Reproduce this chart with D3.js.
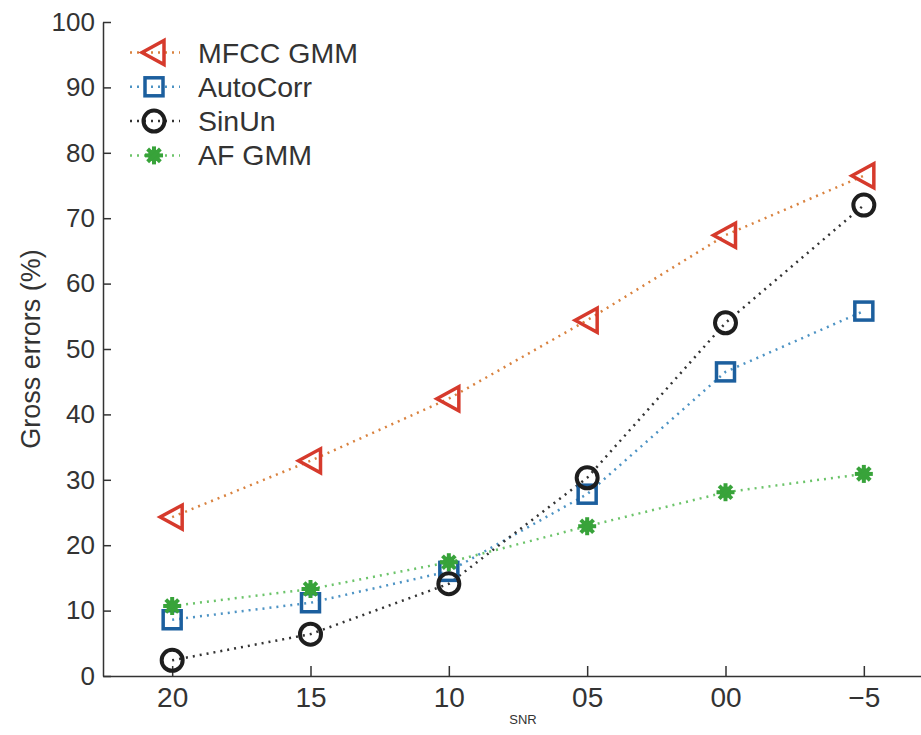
<!DOCTYPE html>
<html lang="en">
<head>
<meta charset="UTF-8">
<title>Gross errors vs SNR</title>
<script src="https://d3js.org/d3.v7.min.js"></script>
<style>
    body { margin: 0; background: #fff; }
    text { font-family: "Liberation Sans", Arial, sans-serif; fill: #333; }
    .axis path, .axis line { stroke: #333; stroke-width: 1.5; }
</style>
</head>
<body>
<div id="chart"></div>
<script>
    // data
    const snrLabels = ["20", "15", "10", "05", "00", "\u22125"];
    const mfccGmm = [24.3, 32.9, 42.4, 54.4, 67.4, 76.5];
    const autoCorr = [8.6, 11.2, 16.0, 27.8, 46.5, 55.8];
    const sinUn = [2.4, 6.4, 14.1, 30.3, 54.0, 72.0];
    const afGmm = [10.7, 13.3, 17.4, 22.9, 28.1, 30.9];
    const yTicks = [0, 10, 20, 30, 40, 50, 60, 70, 80, 90, 100];

    const series = [
        { name: "MFCC GMM", values: mfccGmm, marker: "triangle", stroke: "#d63a2c", line: "#d9823f" },
        { name: "AutoCorr", values: autoCorr, marker: "square", stroke: "#1c5f9e", line: "#4d93c4" },
        { name: "SinUn", values: sinUn, marker: "circle", stroke: "#1e1e1e", line: "#333" },
        { name: "AF GMM", values: afGmm, marker: "star", stroke: "#38a33a", line: "#6cc46a" }
    ];

    const W = 921, H = 735;
    const svg = d3.select("#chart").append("svg")
        .attr("width", W).attr("height", H);

    const x = d3.scaleLinear().domain([-0.5, 5.5]).range([103, 933]);
    const y = d3.scaleLinear().domain([0, 100]).range([676, 22]);

    // y axis, ticks point inward
    const yAxis = svg.append("g")
        .attr("class", "axis")
        .attr("transform", "translate(103,0)")
        .call(d3.axisLeft(y).tickValues(yTicks).tickSize(-8).tickSizeOuter(0).tickPadding(8));
    yAxis.selectAll("text").attr("font-size", 26).attr("fill", "#333");

    // x axis, ticks point inward
    const xAxis = svg.append("g")
        .attr("class", "axis")
        .attr("transform", "translate(0,676)")
        .call(d3.axisBottom(x).tickValues(d3.range(snrLabels.length))
            .tickFormat(i => snrLabels[i]).tickSize(-10).tickSizeOuter(0).tickPadding(11));
    xAxis.selectAll("text").attr("font-size", 28).attr("fill", "#333");

    svg.append("text")
        .attr("transform", "translate(40," + y(50) + ") rotate(-90)")
        .attr("text-anchor", "middle")
        .attr("font-size", 27)
        .text("Gross errors (%)");

    svg.append("text")
        .attr("x", 523).attr("y", 724)
        .attr("text-anchor", "middle")
        .attr("font-size", 13)
        .text("SNR");

    function drawMarker(g, s, cx, cy) {
        if (s.marker === "triangle") {
            g.append("path")
                .attr("d", `M${cx - 12},${cy} L${cx + 10},${cy - 12} L${cx + 10},${cy + 12} Z`)
                .attr("fill", "none").attr("stroke", s.stroke).attr("stroke-width", 3.5)
                .attr("stroke-linejoin", "miter");
        } else if (s.marker === "square") {
            g.append("rect")
                .attr("x", cx - 9).attr("y", cy - 9).attr("width", 18).attr("height", 18)
                .attr("fill", "none").attr("stroke", s.stroke).attr("stroke-width", 3.5);
        } else if (s.marker === "circle") {
            g.append("circle")
                .attr("cx", cx).attr("cy", cy).attr("r", 10.5)
                .attr("fill", "none").attr("stroke", s.stroke).attr("stroke-width", 4);
        } else {
            g.append("circle")
                .attr("cx", cx).attr("cy", cy).attr("r", 6)
                .attr("fill", s.stroke);
            d3.range(4).forEach(k => {
                const a = k * Math.PI / 4;
                g.append("line")
                    .attr("x1", cx - 9 * Math.cos(a)).attr("y1", cy - 9 * Math.sin(a))
                    .attr("x2", cx + 9 * Math.cos(a)).attr("y2", cy + 9 * Math.sin(a))
                    .attr("stroke", s.stroke).attr("stroke-width", 4);
            });
        }
    }

    const line = d3.line().x((d, i) => x(i)).y(d => y(d));

    // lines first, then markers on top
    series.forEach(s => {
        svg.append("path")
            .datum(s.values)
            .attr("d", line)
            .attr("fill", "none")
            .attr("stroke", s.line)
            .attr("stroke-width", 2.5)
            .attr("stroke-dasharray", "2 5");
    });
    series.forEach(s => {
        const g = svg.append("g");
        s.values.forEach((v, i) => drawMarker(g, s, x(i), y(v)));
    });

    // legend
    const legend = svg.append("g");
    series.forEach((s, k) => {
        const ly = 52.5 + k * 34.3;
        legend.append("line")
            .attr("x1", 130).attr("x2", 180).attr("y1", ly).attr("y2", ly)
            .attr("stroke", s.line).attr("stroke-width", 2.5)
            .attr("stroke-dasharray", "2 5");
        drawMarker(legend, s, 154, ly);
        legend.append("text")
            .attr("x", 198).attr("y", ly + 10)
            .attr("font-size", 28.5)
            .text(s.name);
    });
</script>
</body>
</html>
